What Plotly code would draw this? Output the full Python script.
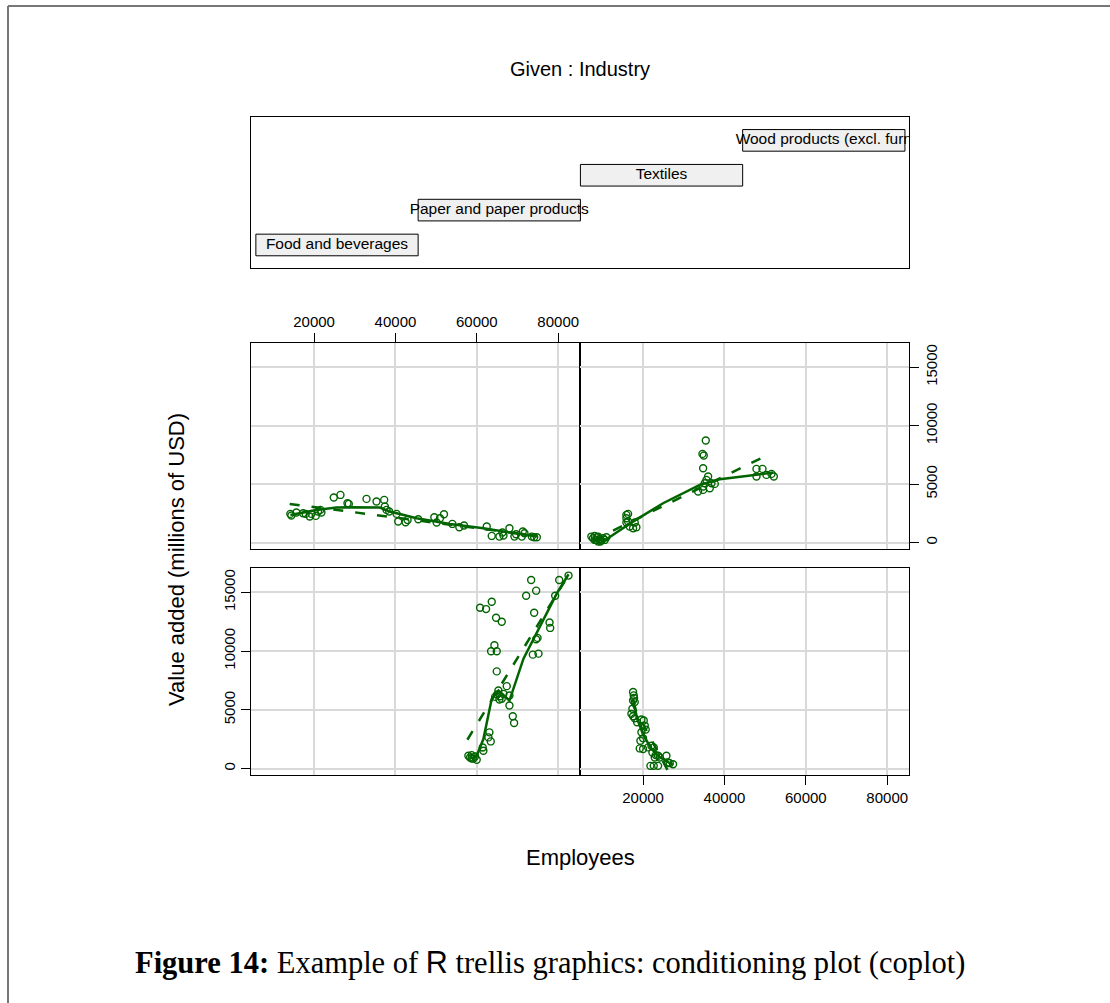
import plotly.graph_objects as go

W, H = 1110, 1003

# ---------------- data ----------------
industries = ["Food and beverages", "Paper and paper products", "Textiles", "Wood products (excl. furn"]
levels = [1, 2, 3, 4]
interval_lo = [0.5, 1.5, 2.5, 3.5]
interval_hi = [1.5, 2.5, 3.5, 4.5]

food_emp = [57916, 58327, 58737, 59147, 59557, 59968, 58737, 61609, 61445, 63087, 62841, 63415,
            60790, 62266, 63661, 64728, 66123, 64318, 63497, 64892, 64892, 67354, 65303, 65713,
            66533, 66123, 65549, 68010, 68010, 68831, 69159, 72114, 73345, 74576, 74084, 74905,
            74576, 73756, 75151, 77859, 78023, 80239, 82537, 79254, 64500, 65000]
food_va = [1084, 941, 1141, 856, 1027, 742, 856, 1512, 1797, 3080, 2652, 2310,
           13690, 13576, 14203, 12834, 12492, 10495, 9982, 9982, 8271, 7016, 6645, 6160,
           6360, 5932, 5875, 6217, 5362, 4449, 3879, 14716, 16057, 15144, 13262, 11123,
           11009, 9697, 9782, 12435, 11974, 16057, 16428, 14716, 6100, 6300]

paper_emp = [17541, 17705, 17787, 17541, 17951, 17377, 17131, 17541, 17951, 18525, 19590, 20164,
             20410, 20656, 19590, 20000, 19344, 19180, 20000, 21230, 22049, 22623, 22295, 23115,
             23689, 24099, 22869, 25738, 26148, 26558, 27377, 21803, 22623, 23689]
paper_va = [6514, 6228, 6000, 5800, 5657, 5085, 4657, 4457, 4286, 3943, 4171, 4086,
            3657, 3314, 3086, 2571, 2371, 1714, 1657, 1800, 1943, 1800, 1371, 1143,
            1086, 943, 943, 1086, 514, 457, 371, 229, 229, 229]

textiles_emp = [14173, 14420, 15650, 17292, 17948, 18933, 19343, 20410, 20985, 21559, 21805, 24842,
                26483, 28207, 28535, 32885, 35347, 37235, 37399, 37809, 38466, 40271, 40682, 42487,
                42980, 45606, 49545, 50120, 50940, 51925, 53977, 55700, 56849, 62430, 63661, 65549,
                66533, 66287, 68010, 69242, 69652, 71047, 71294, 71704, 73510, 74084, 74741]
textiles_va = [2453, 2310, 2567, 2510, 2453, 2225, 2453, 2282, 2652, 2795, 2567, 3850,
               4078, 3365, 3308, 3736, 3508, 3651, 3080, 2795, 2652, 2453, 1797, 1740,
               1939, 1996, 2168, 1711, 2082, 2424, 1597, 1312, 1455, 1369, 570, 513,
               599, 856, 1226, 513, 713, 513, 941, 799, 513, 456, 456]

wood_emp = [7295, 7705, 8114, 8524, 8934, 9344, 9754, 10164, 10573, 10983, 8114, 8688, 9508, 8934,
            15901, 16311, 15901, 16311, 16721, 17541, 18361, 17951, 15901,
            35410, 34591, 34919, 34755, 35984, 35574, 35165, 34755, 33525, 34755, 36394, 37624, 36804,
            47870, 49345, 47870, 50329, 52132, 51559]
wood_va = [513, 371, 570, 228, 86, 285, 171, 371, 228, 456, 228, 456, 86, 513,
           2367, 2453, 2082, 1797, 1369, 1226, 1312, 1711, 1711,
           8727, 7586, 7444, 6360, 5647, 5362, 5077, 4791, 4364, 4506, 4649, 5020, 5077,
           6303, 6303, 5647, 5790, 5647, 5875]

# smoothers (solid = lowess, dashed = linear fit)
food_smooth_x = [58737, 59968, 61609, 63661, 65303, 68010, 71458, 75561, 79664, 82537]
food_smooth_y = [799, 1084, 2510, 5932, 6645, 5790, 9355, 12207, 14916, 16542]
food_lm_x = [57670, 82537]
food_lm_y = [2453, 16485]

paper_smooth_x = [17541, 18500, 20000, 22000, 24000, 27377]
paper_smooth_y = [5943, 4300, 2900, 1700, 1000, 286]
paper_lm_x = [17200, 26900]
paper_lm_y = [5600, -700]

textiles_smooth_x = [14173, 20574, 25499, 28782, 36168, 38630, 45196, 53403, 61610, 69817, 74741]
textiles_smooth_y = [2367, 2795, 2995, 3023, 2995, 2652, 2082, 1597, 1226, 799, 513]
textiles_lm_x = [14009, 74741]
textiles_lm_y = [3308, 570]

wood_smooth_x = [7705, 10983, 17541, 24918, 33935, 38853, 45411, 51968]
wood_smooth_y = [171, 285, 1797, 3365, 4934, 5419, 5704, 5989]
wood_lm_x = [12623, 51149]
wood_lm_y = [1027, 7586]

x_ticks = [20000, 40000, 60000, 80000]
y_ticks = [0, 5000, 10000, 15000]

# ---------------- styling ----------------
GREEN = "#006400"
GRID = "#d9d9d9"
SANS = "Liberation Sans, Arial, sans-serif"
XR = [4500, 85350]
YR = [-550, 17100]


def px(x):
    return x / W


def py(y):
    return 1 - y / H


fig = go.Figure()

# given panel
fig.add_trace(go.Bar(
    orientation="h", y=levels,
    x=[h - l for l, h in zip(interval_lo, interval_hi)], base=interval_lo,
    width=0.62, marker=dict(color="#f0f0f0", line=dict(color="black", width=1)),
    xaxis="x", yaxis="y", showlegend=False, hoverinfo="skip"))
fig.add_trace(go.Scatter(
    x=[(l + h) / 2 for l, h in zip(interval_lo, interval_hi)], y=levels,
    mode="text", text=industries, textposition="middle center",
    textfont=dict(family=SANS, size=15.5, color="black"), cliponaxis=True,
    xaxis="x", yaxis="y", showlegend=False, hoverinfo="skip"))

panels = [
    ("x4", "y4", food_emp, food_va, food_smooth_x, food_smooth_y, food_lm_x, food_lm_y),
    ("x5", "y5", paper_emp, paper_va, paper_smooth_x, paper_smooth_y, paper_lm_x, paper_lm_y),
    ("x2", "y2", textiles_emp, textiles_va, textiles_smooth_x, textiles_smooth_y, textiles_lm_x, textiles_lm_y),
    ("x3", "y3", wood_emp, wood_va, wood_smooth_x, wood_smooth_y, wood_lm_x, wood_lm_y),
]
for xa, ya, ex, vy, sx, sy, lx, ly in panels:
    fig.add_trace(go.Scatter(x=ex, y=vy, mode="markers", xaxis=xa, yaxis=ya,
                             marker=dict(symbol="circle-open", size=7, color=GREEN, line=dict(width=1.4, color=GREEN)),
                             showlegend=False, hoverinfo="skip"))
    fig.add_trace(go.Scatter(x=sx, y=sy, mode="lines", xaxis=xa, yaxis=ya,
                             line=dict(color=GREEN, width=2.5), showlegend=False, hoverinfo="skip"))
    fig.add_trace(go.Scatter(x=lx, y=ly, mode="lines", xaxis=xa, yaxis=ya,
                             line=dict(color=GREEN, width=2.5, dash="10px,12px"), showlegend=False, hoverinfo="skip"))

LEFT, MID, RIGHT = 251, 580, 909
TOP1, BOT1, TOP2, BOT2 = 342.7, 549, 567.7, 775

common = dict(showline=True, linecolor="black", linewidth=1, mirror=True, zeroline=False,
              showgrid=True, gridcolor=GRID, gridwidth=1.5,
              tickfont=dict(family=SANS, size=15, color="black"),
              ticklen=9, tickcolor="black", tickwidth=1)


def xax(dom, anchor, side=None, labels=False):
    d = dict(common, domain=dom, anchor=anchor, range=XR, tickvals=x_ticks,
             ticktext=[str(v) for v in x_ticks])
    if labels:
        d.update(ticks="outside", side=side, showticklabels=True)
    else:
        d.update(ticks="", showticklabels=False)
    return d


def yax(dom, anchor, side=None, labels=False):
    d = dict(common, domain=dom, anchor=anchor, range=YR, tickvals=y_ticks,
             ticktext=[str(v) for v in y_ticks], tickangle=-90)
    if labels:
        d.update(ticks="outside", side=side, showticklabels=True)
    else:
        d.update(ticks="", showticklabels=False)
    return d


fig.update_layout(
    width=W, height=H, margin=dict(l=0, r=0, t=0, b=0),
    paper_bgcolor="white", plot_bgcolor="white", barmode="overlay",
    xaxis=dict(domain=[px(LEFT), px(RIGHT)], anchor="y", range=[0.47, 4.525],
               showline=True, mirror=True, linecolor="black", linewidth=1,
               showgrid=False, zeroline=False, showticklabels=False, ticks=""),
    yaxis=dict(domain=[py(268), py(117)], anchor="x", range=[0.34, 4.67],
               showline=True, mirror=True, linecolor="black", linewidth=1,
               showgrid=False, zeroline=False, showticklabels=False, ticks=""),
    xaxis2=xax([px(LEFT), px(MID)], "y2", side="top", labels=True),
    yaxis2=yax([py(BOT1), py(TOP1)], "x2"),
    xaxis3=xax([px(MID), px(RIGHT)], "y3"),
    yaxis3=yax([py(BOT1), py(TOP1)], "x3", side="right", labels=True),
    xaxis4=xax([px(LEFT), px(MID)], "y4"),
    yaxis4=yax([py(BOT2), py(TOP2)], "x4", side="left", labels=True),
    xaxis5=xax([px(MID), px(RIGHT)], "y5", side="bottom", labels=True),
    yaxis5=yax([py(BOT2), py(TOP2)], "x5"),
)

annotations = [
    dict(text="Given : Industry", x=px(580), y=py(69), xref="paper", yref="paper",
         showarrow=False, font=dict(family=SANS, size=20, color="black"), xanchor="center", yanchor="middle"),
    dict(text="Employees", x=px(580), y=py(857), xref="paper", yref="paper",
         showarrow=False, font=dict(family=SANS, size=22, color="black"), xanchor="center", yanchor="middle"),
    dict(text="Value added (millions of USD)", x=px(176), y=py(560), xref="paper", yref="paper",
         showarrow=False, textangle=-90, font=dict(family=SANS, size=22, color="black"),
         xanchor="center", yanchor="middle"),
    dict(text="<b>Figure 14:</b> Example of <span style=\"font-family:Liberation Sans\">R</span> trellis graphics: conditioning plot (coplot)",
         x=px(550), y=py(962), xref="paper", yref="paper", showarrow=False,
         font=dict(family="Liberation Serif, DejaVu Serif, serif", size=30.5, color="black"),
         xanchor="center", yanchor="middle"),
]
fig.update_layout(annotations=annotations)

fig.update_layout(shapes=[
    dict(type="line", xref="paper", yref="paper", x0=px(8), x1=1, y0=py(6), y1=py(6),
         line=dict(color="#777777", width=2)),
    dict(type="line", xref="paper", yref="paper", x0=px(8), x1=px(8), y0=py(6), y1=0,
         line=dict(color="#777777", width=2)),
])

fig.write_html("out.html")
